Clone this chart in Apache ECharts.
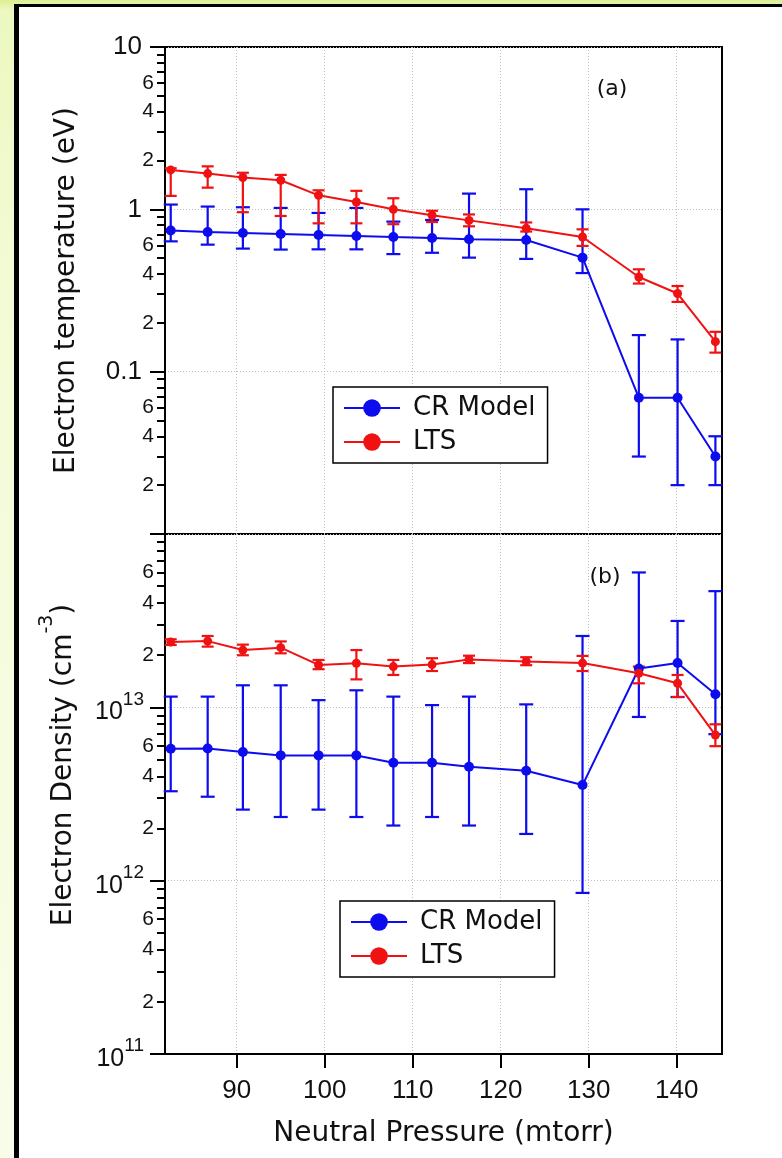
<!DOCTYPE html>
<html>
<head>
<meta charset="utf-8">
<script src="https://cdn.jsdelivr.net/npm/echarts@6/dist/echarts.min.js"></script>
<style>
  html, body { margin: 0; padding: 0; width: 782px; height: 1158px; overflow: hidden; }
  body { background: linear-gradient(to bottom, #dcef92 0px, #ecf8c0 10px, #f3fbd6 300px, #f8fdea 1158px); }
  #frame { position: absolute; left: 14px; top: 4px; width: 790px; height: 1170px;
           border-left: 5px solid #000; border-top: 3px solid #000; background: #fff; }
  #chart { position: absolute; left: 0; top: 0; width: 782px; height: 1158px; }
</style>
</head>
<body>
<div id="frame"></div>
<div id="chart"></div>
<script>
// Neutral pressure (mtorr) of each measurement
const pressure = [82.5, 86.7, 90.7, 95.0, 99.3, 103.6, 107.8, 112.2, 116.4, 122.9, 129.3, 135.7, 140.1, 144.4];

// (a) Electron temperature (eV)
const teCR     = [0.74, 0.725, 0.715, 0.705, 0.695, 0.685, 0.675, 0.666, 0.654, 0.647, 0.504, 0.069, 0.069, 0.030];
const teCRHigh = [1.07, 1.04, 1.03, 1.02, 0.95, 1.02, 0.84, 0.86, 1.25, 1.33, 1.00, 0.168, 0.158, 0.040];
const teCRLow  = [0.635, 0.606, 0.573, 0.565, 0.567, 0.567, 0.53, 0.54, 0.504, 0.495, 0.405, 0.030, 0.020, 0.020];

const teLTS     = [1.75, 1.66, 1.57, 1.51, 1.22, 1.11, 1.00, 0.92, 0.855, 0.764, 0.675, 0.383, 0.303, 0.153];
const teLTSHigh = [1.79, 1.84, 1.68, 1.63, 1.31, 1.30, 1.17, 0.98, 0.93, 0.83, 0.753, 0.427, 0.337, 0.176];
const teLTSLow  = [1.21, 1.36, 0.96, 0.91, 0.82, 0.82, 0.81, 0.835, 0.786, 0.73, 0.595, 0.349, 0.269, 0.131];

// (b) Electron density (cm^-3)
const neCR     = [5.77e12, 5.79e12, 5.52e12, 5.28e12, 5.28e12, 5.28e12, 4.79e12, 4.79e12, 4.54e12, 4.31e12, 3.56e12, 1.675e13, 1.80e13, 1.19e13];
const neCRHigh = [1.153e13, 1.153e13, 1.34e13, 1.34e13, 1.10e13, 1.254e13, 1.153e13, 1.03e13, 1.153e13, 1.04e13, 2.58e13, 6.0e13, 3.15e13, 4.68e13];
const neCRLow  = [3.28e12, 3.05e12, 2.57e12, 2.33e12, 2.57e12, 2.33e12, 2.08e12, 2.33e12, 2.08e12, 1.86e12, 8.5e11, 8.8e12, 1.147e13, 7.0e12];

const neLTS     = [2.38e13, 2.41e13, 2.14e13, 2.21e13, 1.756e13, 1.796e13, 1.718e13, 1.765e13, 1.89e13, 1.84e13, 1.80e13, 1.573e13, 1.376e13, 6.92e12];
const neLTSHigh = [2.47e13, 2.58e13, 2.30e13, 2.40e13, 1.876e13, 2.14e13, 1.876e13, 1.92e13, 1.986e13, 1.946e13, 1.98e13, 1.718e13, 1.537e13, 7.98e12];
const neLTSLow  = [2.29e13, 2.24e13, 1.997e13, 2.05e13, 1.66e13, 1.45e13, 1.537e13, 1.62e13, 1.80e13, 1.75e13, 1.62e13, 1.376e13, 1.147e13, 5.97e12];

// Axis ticks and labels
const xTicks = [90, 100, 110, 120, 130, 140];
const teLabels = [0.02, 0.04, 0.06, 0.1, 0.2, 0.4, 0.6, 1, 2, 4, 6, 10];
const neLabels = [1e11, 2e11, 4e11, 6e11, 1e12, 2e12, 4e12, 6e12, 1e13, 2e13, 4e13, 6e13];
const seriesNames = ['CR Model', 'LTS'];

const BLUE = '#0c0cee';
const RED = '#f01212';
const INK = '#111';
const lg = Math.log10;

// The y axes are linear in log10(value)
const pts = (ys) => pressure.map((x, i) => [x, lg(ys[i])]);
const bars = (lo, hi) => pressure.map((x, i) => [x, lg(lo[i]), lg(hi[i])]);

function decades(lo, hi) {
  const out = [];
  for (let e = lo; e <= hi; e++) out.push(e);
  return out;
}
function minorTicks(lo, hi) {
  const out = [];
  for (let e = lo; e < hi; e++) for (let m = 2; m <= 9; m++) out.push(e + lg(m));
  return out;
}
function split(v) {
  const e = Math.floor(v + 1e-9);
  return { e, m: Math.round(Math.pow(10, v - e)) };
}

function errorBars(name, xi, yi, data, color, cap) {
  return {
    type: 'custom', name, xAxisIndex: xi, yAxisIndex: yi, data,
    encode: { x: 0, y: [1, 2] }, silent: true, z: 3,
    renderItem(params, api) {
      const x = api.value(0);
      const a = api.coord([x, api.value(1)]);
      const b = api.coord([x, api.value(2)]);
      const h = cap / 2;
      const st = { stroke: color, lineWidth: 2.2 };
      return {
        type: 'group',
        children: [
          { type: 'line', shape: { x1: a[0], y1: a[1], x2: b[0], y2: b[1] }, style: st },
          { type: 'line', shape: { x1: a[0] - h, y1: a[1], x2: a[0] + h, y2: a[1] }, style: st },
          { type: 'line', shape: { x1: b[0] - h, y1: b[1], x2: b[0] + h, y2: b[1] }, style: st }
        ]
      };
    }
  };
}
function lineSeries(name, xi, yi, data, color, size) {
  return {
    type: 'line', name, xAxisIndex: xi, yAxisIndex: yi, data,
    symbol: 'circle', symbolSize: size, showAllSymbol: true,
    lineStyle: { color, width: 2 }, itemStyle: { color }, z: 4
  };
}

const gridLine = { show: true, lineStyle: { color: '#bdbdbd', type: [1, 2], width: 1 } };
const axisInk = { color: '#000', width: 2 };
const titleStyle = { fontSize: 28, fontFamily: 'DejaVu Sans', color: INK };

function xAxis(gi, labelled) {
  return {
    type: 'value', gridIndex: gi, min: 81.85, max: 145.15,
    axisLine: { show: labelled, onZero: false, lineStyle: axisInk },
    axisTick: { show: labelled, customValues: xTicks, length: 14, lineStyle: axisInk },
    axisLabel: { show: labelled, customValues: xTicks, margin: 24, fontSize: 26,
                 fontFamily: 'Liberation Sans', color: INK },
    splitLine: gridLine,
    name: labelled ? 'Neutral Pressure (mtorr)' : '',
    nameLocation: 'middle', nameGap: 66, nameMoveOverlap: false,
    nameTextStyle: titleStyle
  };
}
function yMajor(gi, lo, hi, labels, formatter, rich, name, nameGap, nameTextStyle) {
  return {
    type: 'value', gridIndex: gi, position: 'left', min: lo, max: hi,
    axisLine: { show: true, onZero: false, lineStyle: axisInk },
    axisTick: { show: true, customValues: decades(lo, hi), length: 15, lineStyle: axisInk },
    axisLabel: { customValues: labels.map(lg), margin: 11, formatter, rich, color: INK },
    splitLine: gridLine,
    name, nameLocation: 'middle', nameGap, nameMoveOverlap: false, nameTextStyle
  };
}
function yMinor(gi, lo, hi) {
  return {
    type: 'value', gridIndex: gi, position: 'left', min: lo, max: hi,
    axisLine: { show: false, onZero: false },
    axisTick: { show: true, customValues: minorTicks(lo, hi), length: 8, lineStyle: axisInk },
    axisLabel: { show: false }, splitLine: { show: false }
  };
}

const minorStyle = { fontSize: 21, fontFamily: 'Liberation Sans', color: INK };

const teFormatter = (v) => {
  const { e, m } = split(v);
  if (m === 1) {
    const txt = e >= 0 ? String(Math.pow(10, e)) : Math.pow(10, e).toFixed(-e);
    return '{maj|' + txt + '}';
  }
  return '{min|' + m + '}';
};
const neFormatter = (v) => {
  const { e, m } = split(v);
  if (m === 1) return '{maj|10}{sup|' + e + '}';
  return '{min|' + m + '}';
};

const legendBase = {
  orient: 'vertical', data: seriesNames, selectedMode: false,
  backgroundColor: '#fff', borderColor: '#000', borderWidth: 1.5,
  padding: [8, 12, 8, 10], itemWidth: 56, itemHeight: 22, itemGap: 8,
  textStyle: { fontSize: 26, fontFamily: 'DejaVu Sans', color: INK, padding: [0, 0, 0, 8] }
};

const panelTag = (text, x, y) => ({
  type: 'text', x, y,
  style: { text, fill: INK, fontSize: 22, fontFamily: 'DejaVu Sans', align: 'center', verticalAlign: 'middle' }
});

const chart = echarts.init(document.getElementById('chart'), null, { renderer: 'canvas' });
chart.setOption({
  animation: false,
  backgroundColor: 'transparent',
  grid: [
    { left: 165, top: 47, width: 557, height: 487, show: true, borderColor: '#000', borderWidth: 2 },
    { left: 165, top: 534, width: 557, height: 520, show: true, borderColor: '#000', borderWidth: 2 }
  ],
  xAxis: [xAxis(0, false), xAxis(1, true)],
  yAxis: [
    yMajor(0, -2, 1, teLabels, teFormatter, {
      maj: { fontSize: 26, fontFamily: 'Liberation Sans', color: INK, padding: [0, 12, 0, 0] },
      min: minorStyle
    }, 'Electron temperature (eV)', 84, titleStyle),
    yMinor(0, -2, 1),
    yMajor(1, 11, 14, neLabels, neFormatter, {
      maj: { fontSize: 25, fontFamily: 'Liberation Sans', color: INK, padding: [10, 0, 0, 0], verticalAlign: 'bottom' },
      sup: { fontSize: 19, fontFamily: 'Liberation Sans', color: INK, lineHeight: 19, verticalAlign: 'top', padding: [0, 10, 0, 0] },
      min: minorStyle
    }, '{m|Electron Density (cm}{sup|-3}{m|)}', 87,
      { fontSize: 28, fontFamily: 'DejaVu Sans', color: INK, padding: [0, 0, 0, 58],
        rich: {
          m: { fontSize: 28, fontFamily: 'DejaVu Sans', color: INK, lineHeight: 40, verticalAlign: 'bottom' },
          sup: { fontSize: 19, fontFamily: 'DejaVu Sans', color: INK, lineHeight: 19, verticalAlign: 'top' }
        } }),
    yMinor(1, 11, 14)
  ],
  legend: [
    Object.assign({ left: 333, top: 387 }, legendBase),
    Object.assign({ left: 340, top: 901 }, legendBase)
  ],
  graphic: [panelTag('(a)', 612, 89), panelTag('(b)', 605, 577)],
  series: [
    errorBars('CR Model error (a)', 0, 0, bars(teCRLow, teCRHigh), BLUE, 14),
    lineSeries('CR Model', 0, 0, pts(teCR), BLUE, 10),
    errorBars('LTS error (a)', 0, 0, bars(teLTSLow, teLTSHigh), RED, 12),
    lineSeries('LTS', 0, 0, pts(teLTS), RED, 9),
    errorBars('CR Model error (b)', 1, 2, bars(neCRLow, neCRHigh), BLUE, 14),
    lineSeries('CR Model', 1, 2, pts(neCR), BLUE, 10),
    errorBars('LTS error (b)', 1, 2, bars(neLTSLow, neLTSHigh), RED, 12),
    lineSeries('LTS', 1, 2, pts(neLTS), RED, 9)
  ]
});
</script>
</body>
</html>
